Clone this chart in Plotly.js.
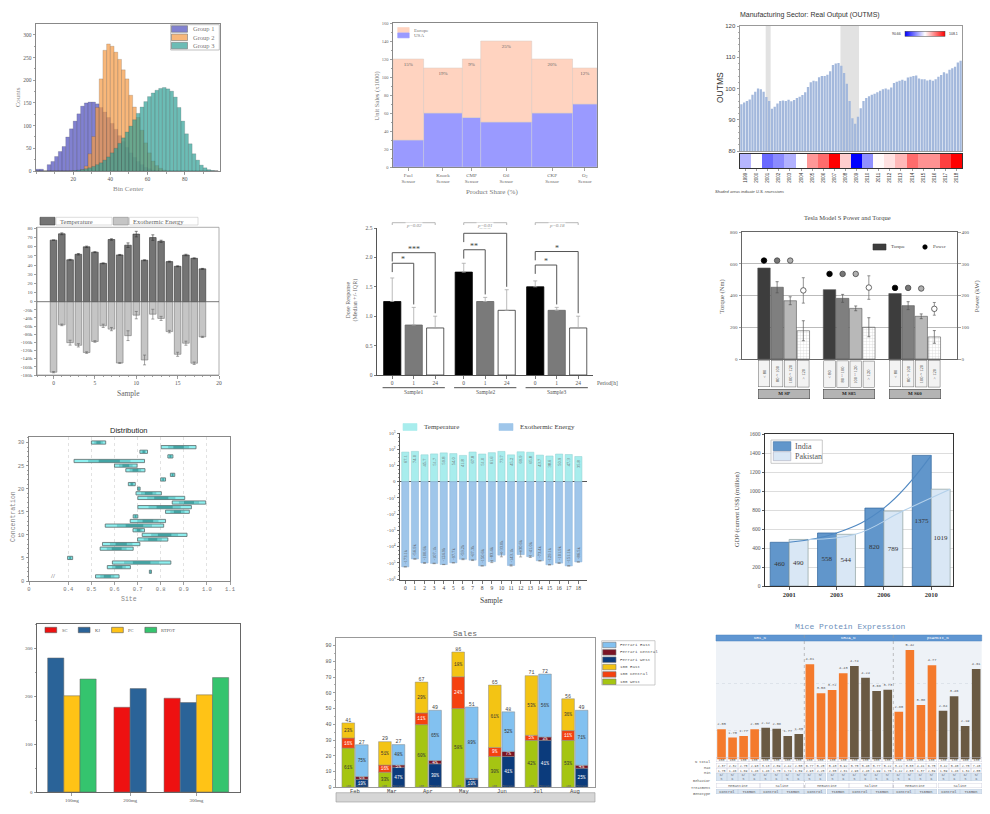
<!DOCTYPE html>
<html>
<head>
<meta charset="utf-8">
<script src="https://cdn.plot.ly/plotly-3.0.1.min.js"></script>
<style>html,body{margin:0;padding:0;background:#fff;}#chart{width:990px;height:814px;}</style>
</head>
<body>
<div id="chart"></div>
<script>
// ======================= DATA =======================
// Panel 1 - overlapping histograms
const histBins = [1,3,5,7,9,11,13,15,17,19,21,23,25,27,29,31,33,35,37,39,41,43,45,47,49,51,53,55,57,59,61,63,65,67,69,71,73,75,77,79,81,83,85,87,89,91,93,95,97];
const histGroup1 = [4,4,0,14,21,32,43,54,75,93,110,126,143,150,152,152,148,140,130,118,105,92,78,65,52,40,30,21,14,8,5,2,1,0,0,0,0,0,0,0,0,0,0,0,0,0,0,0,0];
const histGroup2 = [0,0,0,0,0,0,0,0,0,0,0,0,3,11,38,76,140,203,266,280,275,262,246,223,203,167,141,118,90,62,40,22,12,6,2,0,0,0,0,0,0,0,0,0,0,0,0,0,0];
const histGroup3 = [0,0,0,0,0,0,0,0,0,0,1,2,3,5,7,10,14,18,24,31,40,50,61,73,86,99,113,127,141,153,164,172,178,182,184,181,176,163,140,110,82,60,38,24,13,7,3,1,0];
const histNames = ['Group 1','Group 2','Group 3'];

// Panel 2 - Marimekko
const marCats = ['Fuel<br>Sensor','Knock<br>Sensor','CMP<br>Sensor','Oil<br>Sensor','CKP<br>Sensor','O<sub>2</sub><br>Sensor'];
const marShare = [15,19,9,25,20,12];
const marUSA = [30,60,55,50,60,70];
const marEurope = [90,50,65,90,60,40];

// Panel 3 - OUTMS quarterly 1999Q1..2018Q4
const outms = [95.0,95.5,96.0,96.5,98.0,99.0,100.0,99.8,99.0,97.3,
  96.0,93.5,94.2,95.2,96.0,96.2,96.0,96.4,95.9,96.3,
  97.0,97.4,97.9,98.8,100.5,102.0,102.5,102.3,103.6,104.0,
  104.0,104.4,105.5,107.5,108.0,108.2,107.3,105.0,101.5,96.0,
  90.5,88.7,91.0,93.7,96.0,97.0,97.5,98.0,98.3,98.8,
  99.3,99.8,100.0,99.7,100.3,101.8,102.2,102.5,102.8,102.5,
  103.5,103.8,104.0,104.2,103.2,103.0,103.0,102.6,102.8,102.5,
  103.0,103.8,104.3,105.2,104.8,106.0,106.5,107.0,108.3,108.9];
const recStart = [8.75,35.7];
const recEnd = [10.55,42.4];
const stripYears = ['1999','2000','2001','2002','2003','2004','2005','2006','2007','2008','2009','2010','2011','2012','2013','2014','2015','2016','2017','2018'];
const stripValues = [96.9,99.4,94.3,95.4,96.7,99.3,102.9,104.4,108.1,101.1,90.66,95.6,99.6,100.4,101.8,104.4,103.1,103.1,105.9,108.1];
const stripMin = 90.66, stripMax = 108.1;

// Panels 4 & 8 - temperature / exothermic energy
const samples = [0,1,2,3,4,5,6,7,8,9,10,11,12,13,14,15,16,17,18];
const temperature = [67.1,74.0,45.7,51.7,59.8,54.0,41.8,67.8,51.0,61.6,73.7,45.2,69.9,65.8,43.7,38.6,50.9,47.3,35.8];
const temperatureErr = [0,1,0.5,0.8,0.8,0.5,0.5,0.8,0.5,2.5,3,0.5,3,1.2,0.5,0.5,0.8,0.5,0.5];
const energyK = [-173.1,-56.9,-100.6,-107.1,-124.9,-97.7,-59.2,-67.3,-150.6,-83.4,-33.0,-143.1,-30.6,-41.0,-73.4,-129.1,-101.9,-151.1,-86.5];
const energyErrK = [1.5,2,6,4,2,2,4,4,1,12,9,12,12,5,3,5,5,3,1.5];

// Panel 5 - dose response
const doseGroups = ['Sample1','Sample2','Sample3'];
const dosePeriods = ['0','1','24'];
const dose0 = [1.25,1.75,1.50];
const dose1 = [0.85,1.25,1.10];
const dose24 = [0.80,1.10,0.80];
const doseErr0 = [0.40,0.15,0.10];
const doseErr1 = [0.30,0.07,0.05];
const doseErr24 = [0.20,0.35,0.20];
const sigGroup = [0,0,1,1,2,2];
const sigTo = [1,2,1,2,1,2];
const sigLevel = [1.90,2.08,2.13,2.41,1.87,2.10];
const sigText = ['*','***','**','***','*','*'];
const pValues = ['p=0.02','p=0.01','p=0.18'];

// Panel 6 - Tesla
const teslaModels = ['M SP','M S85','M S60'];
const speedBands = ['&lt; 80','80 ~ 100','100 ~ 120','&gt; 120'];
const torqueBand0 = [573,437,412];
const torqueBand1 = [452,382,336];
const torqueBand2 = [367,319,269];
const torqueBand3 = [178,200,139];
const torqueErr1 = [35,25,25];
const torqueErr2 = [25,15,15];
const torqueErr3 = [63,60,40];
const powerBand0 = [310,268,224];
const powerBand1 = [310,268,224];
const powerBand2 = [310,268,222];
const powerBand3 = [216,225,158];
const powerErr3 = [40,37,20];

// Panel 7 - floating bars
const distRows = [1,2,3,4,5,7,8,9,10,11,12,13,14,15,16,17,18,19,20,21,22,23,24,25,26,27,28,29,30];
const distStart = [0.518,0.751,0.569,0.591,0.397,0.538,0.548,0.700,0.720,0.680,0.560,0.668,0.681,0.821,0.701,0.850,0.701,0.693,0.700,0.660,0.800,0.842,0.649,0.600,0.425,0.831,0.710,0.802,0.500];
const distEnd   = [0.620,0.760,0.669,0.844,0.419,0.681,0.710,0.831,0.914,0.730,0.813,0.821,0.701,0.924,0.933,0.995,0.904,0.803,0.711,0.690,0.821,0.861,0.732,0.698,0.730,0.853,0.743,0.953,0.562];

// Panel 9 - GDP
const gdpYears = ['2001','2003','2006','2010'];
const gdpIndia = [460,558,820,1375];
const gdpPakistan = [490,544,789,1019];

// Panel 10 - grouped bars with gaps
const doseCats = ['100mg','200mg','300mg'];
const seriesSC = [null,177,196];
const seriesKJ = [280,216,187];
const seriesPC = [201,null,203];
const seriesRTPOT = [236,null,239];

// Panel 11 - Sales
const salesMonths = ['Feb','Mar','Apr','May','Jun','Jul','Aug'];
const s100West = [24.9,9.6,39.8,50.0,19.6,29.8,29.8];
const s100Central = [6.4,4.5,7.4,20.2,5.7,3.2,6.2];
const s100East = [9.6,14.9,19.6,15.7,39.6,37.9,20.2];
const sFerWest = [5.1,12.8,14.9,5.1,19.6,29.8,12.1];
const sFerCentral = [1.7,1.3,2.1,0.6,3.2,2.1,1.9];
const sFerEast = [20.2,13.0,31.9,45.3,25.1,40.0,34.9];

// Panel 12 - Mice protein expression
const mpProteins = ['NR1_N','NR2A_N','pCAMKII_N'];
const mpBehavior = ['C/S','S/C','C/S','S/C','C/S','S/C','C/S','S/C'];
const mpTreatment = ['Memantine','Saline'];
const mpGenotype = ['Control','Ts65Dn','Control','Ts65Dn'];
const mpN = [150,150,135,135,135,135,105,135];
const mpNR1 = [2.05,1.70,1.77,2.05,2.12,2.08,1.77,1.85];
const mpNR2A = [4.81,3.58,3.72,4.43,4.74,4.24,3.68,3.73];
const mpCAMKII = [2.80,5.42,3.08,4.77,2.84,3.46,2.19,4.61];
const mpMaxNR1 = [2.37,2.32,2.75,2.93,3.13,2.89,2.42,2.58];
const mpMinNR1 = [1.75,1.46,1.69,1.46,1.46,1.75,1.74,1.59];
const mpMaxNR2A = [6.77,5.25,5.43,5.92,5.75,5.40,5.77,5.22];
const mpMinNR2A = [2.93,2.25,2.65,2.61,2.96,2.40,1.99,1.76];
const mpMaxCAMKII = [3.22,8.03,4.41,6.75,3.42,5.40,2.75,7.48];
const mpMinCAMKII = [1.42,2.03,1.37,2.89,1.59,1.46,1.34,2.05];

// ======================= HELPERS =======================
const SERIF = '"Liberation Serif","DejaVu Serif",serif';
const SANS = '"Liberation Sans","DejaVu Sans",sans-serif';
const MONO = '"Liberation Mono","DejaVu Sans Mono",monospace';
const W = 990, H = 814;
const X = (a,b)=>[a/W,b/W];
const Y = (t,b)=>[1-b/H,1-t/H];
const PX = v=>v/W, PY = v=>1-v/H;
const fnt = (family,size,color)=>({family,size,color});
const traces = [], shapes = [], ann = [];
function axis(o){
  return Object.assign({automargin:false,showgrid:false,zeroline:false,showline:true,linecolor:'#888',linewidth:1,
    ticks:'outside',ticklen:2.5,tickwidth:0.8,tickcolor:'#888',tickfont:fnt(SERIF,5.5,'#555'),fixedrange:true},o);
}
function rectP(x0,y0,x1,y1,fill,line,lw,layer){
  shapes.push({type:'rect',xref:'paper',yref:'paper',x0:PX(x0),x1:PX(x1),y0:PY(y1),y1:PY(y0),
    fillcolor:fill||'rgba(0,0,0,0)',line:{color:line||'rgba(0,0,0,0)',width:lw==null?0.8:lw},layer:layer||'above'});
}
function lineP(x0,y0,x1,y1,color,w,dash){
  shapes.push({type:'line',xref:'paper',yref:'paper',x0:PX(x0),x1:PX(x1),y0:PY(y0),y1:PY(y1),line:{color:color,width:w||1,dash:dash||'solid'}});
}
function textP(x,y,text,font,o){
  ann.push(Object.assign({xref:'paper',yref:'paper',x:PX(x),y:PY(y),text:text,showarrow:false,font:font,xanchor:'center',yanchor:'middle'},o||{}));
}
function vtext(x,y,text,font){ textP(x,y,text,font,{textangle:-90}); }
function legendItems(items,x0,y0,dxs,dys,sw,sh,gap,font){
  items.forEach((it,i)=>{
    const x=x0+i*dxs, y=y0+i*dys;
    if(it.dot){
      shapes.push({type:'circle',xref:'paper',yref:'paper',x0:PX(x+sw/2-2.2),x1:PX(x+sw/2+2.2),y0:PY(y+2.2),y1:PY(y-2.2),fillcolor:it.fill,line:{color:it.line||it.fill,width:0.8}});
    } else rectP(x,y-sh/2,x+sw,y+sh/2,it.fill,it.line||'#666',0.6);
    textP(x+sw+gap,y,it.name,font,{xanchor:'left'});
  });
}
const layout = {width:W,height:H,margin:{l:0,r:0,t:0,b:0},paper_bgcolor:'#fff',plot_bgcolor:'rgba(0,0,0,0)',
  barmode:'overlay',showlegend:false,hovermode:false,font:fnt(SERIF,6,'#555')};

// ======================= PANEL 1 =======================
const histColors = ['rgba(80,80,190,0.72)','rgba(245,155,70,0.72)','rgba(45,160,150,0.70)'];
[histGroup1,histGroup2,histGroup3].forEach((g,i)=>traces.push({type:'bar',x:histBins,y:g,width:2,name:histNames[i],
  marker:{color:histColors[i],line:{color:'rgba(60,60,60,0.45)',width:0.4}},xaxis:'x',yaxis:'y'}));
layout.xaxis = axis({domain:X(36,220),range:[0,99],anchor:'y',tickvals:[20,40,60,80],mirror:true,
  minor:{dtick:10,ticks:'outside',ticklen:1.5,tickcolor:'#888'}});
layout.yaxis = axis({domain:Y(24,171),range:[0,324],anchor:'x',dtick:50,mirror:true,
  minor:{dtick:25,ticks:'outside',ticklen:1.5,tickcolor:'#888'}});
textP(128,189,'Bin Center',fnt(SERIF,7,'#888'));
vtext(18.3,97,'Counts',fnt(SERIF,7,'#888'));
rectP(170.7,24.7,219.3,50,'rgba(255,255,255,0.9)','#999',0.6);
legendItems(histNames.map((n,i)=>({name:n,fill:histColors[i],line:'#777'})),171.5,29,0,8.3,16,6.5,3,fnt(SERIF,6.5,'#777'));

// ======================= PANEL 2 =======================
const marStart = []; marShare.forEach((s,i)=>marStart.push(i?marStart[i-1]+marShare[i-1]:0));
const marCenter = marStart.map((s,i)=>s+marShare[i]/2);
traces.push({type:'bar',x:marCenter,y:marUSA,width:marShare,xaxis:'x2',yaxis:'y2',marker:{color:'#9a9aff',line:{color:'#c8c8d8',width:0.5}}});
traces.push({type:'bar',x:marCenter,y:marEurope,base:marUSA,width:marShare,xaxis:'x2',yaxis:'y2',
  marker:{color:'#ffd3c0',line:{color:'#d8c8c0',width:0.5}},text:marShare.map(s=>s+'%'),textposition:'inside',insidetextanchor:'end',
  textangle:0,textfont:fnt(SERIF,5,'#666'),constraintext:'none'});
layout.xaxis2 = axis({domain:X(393,597),range:[0,100],anchor:'y2',tickvals:marCenter,ticktext:marCats,tickfont:fnt(SERIF,5,'#666'),mirror:true});
layout.yaxis2 = axis({domain:Y(23,167),range:[0,160],anchor:'x2',dtick:20,mirror:true,tickfont:fnt(SERIF,4.5,'#666'),
  minor:{dtick:10,ticks:'outside',ticklen:1.5,tickcolor:'#888'}});
textP(491.7,191.7,'Product Share (%)',fnt(SERIF,7,'#777'));
vtext(376.5,96,'Unit Sales (x1000)',fnt(SERIF,6.5,'#777'));
legendItems([{name:'Europe',fill:'#ffd3c0',line:'#ffd3c0'},{name:'USA',fill:'#9a9aff',line:'#9a9aff'}],397.7,30,0,5.4,11.5,5,2.5,fnt(SERIF,5,'#777'));

// ======================= PANEL 3 =======================
const qIdx = outms.map((v,i)=>i);
recStart.forEach((s,i)=>shapes.push({type:'rect',xref:'x3',yref:'y3',x0:s,x1:recEnd[i],y0:80,y1:120,fillcolor:'#e2e2e2',line:{width:0},layer:'below'}));
traces.push({type:'bar',x:qIdx,y:outms,width:0.82,xaxis:'x3',yaxis:'y3',marker:{color:'#a3b8dc',line:{width:0}}});
layout.xaxis3 = axis({domain:X(740,962),range:[-0.5,79.5],anchor:'y3',showticklabels:false,ticks:'',mirror:true,linecolor:'#999'});
layout.yaxis3 = axis({domain:Y(26,151),range:[80,120],anchor:'x3',dtick:10,mirror:true,linecolor:'#999',tickfont:fnt(SANS,6,'#444'),
  minor:{dtick:2,ticks:'outside',ticklen:1.5,tickcolor:'#999'}});
vtext(720,88,'OUTMS',fnt(SANS,8.5,'#333'));
const yrIdx = stripYears.map((y,i)=>i);
traces.push({type:'heatmap',z:[stripValues],x:yrIdx,y:[0],xaxis:'x4',yaxis:'y4',zmin:stripMin,zmax:stripMax,
  colorscale:[[0,'#0000ff'],[0.5,'#ffffff'],[1,'#ff0000']],showscale:true,
  colorbar:{orientation:'h',x:PX(925),xanchor:'center',y:PY(34),yanchor:'middle',len:40,lenmode:'pixels',thickness:5,
    showticklabels:false,ticks:'',outlinewidth:0.5,outlinecolor:'#444',xpad:0,ypad:0}});
layout.xaxis4 = axis({domain:X(740,962),range:[-0.5,19.5],anchor:'y4',tickvals:yrIdx,ticktext:stripYears,tickangle:-90,
  tickfont:fnt(SANS,4.5,'#333'),mirror:true,linecolor:'#333',ticklen:2});
layout.yaxis4 = axis({domain:Y(154,168),range:[-0.5,0.5],anchor:'x4',showticklabels:false,ticks:'',mirror:true,linecolor:'#333'});
textP(810,15,'Manufacturing Sector: Real Output (OUTMS)',fnt(SANS,7,'#333'));
textP(903,34,String(stripMin),fnt(SANS,3.5,'#333'),{xanchor:'right'});
textP(947,34,String(stripMax),fnt(SANS,3.5,'#333'),{xanchor:'left'});
textP(713,192,'<i>Shaded areas indicate U.S. recessions</i>',fnt(SANS,4,'#444'),{xanchor:'left'});

// ======================= PANEL 4 =======================
traces.push({type:'bar',x:samples,y:temperature,width:0.8,xaxis:'x5',yaxis:'y5',marker:{color:'#747474',line:{color:'#333',width:0.6}},
  error_y:{type:'data',array:temperatureErr,color:'#333',thickness:0.6,width:1.5}});
traces.push({type:'bar',x:samples,y:energyK,width:0.8,xaxis:'x5',yaxis:'y6',marker:{color:'#c5c5c5',line:{color:'#777',width:0.6}},
  error_y:{type:'data',array:energyErrK,color:'#666',thickness:0.6,width:1.5}});
layout.xaxis5 = axis({domain:X(37,219),range:[-2,20],anchor:'y6',tickvals:[0,5,10,15,20],
  minor:{dtick:1,ticks:'outside',ticklen:1.2,tickcolor:'#888'}});
layout.yaxis5 = axis({domain:Y(227.3,301.7),range:[0,81.1],anchor:'x5',tickvals:[0,10,20,30,40,50,60,70,80],tickfont:fnt(SERIF,5,'#555')});
layout.yaxis6 = axis({domain:Y(301.7,375),range:[-180,0],anchor:'x5',tickvals:[-180,-160,-140,-120,-100,-80,-60,-40,-20],
  ticktext:['-180k','-160k','-140k','-120k','-100k','-80k','-60k','-40k','-20k'],tickfont:fnt(SERIF,5,'#555')});
textP(128.3,393.3,'Sample',fnt(SERIF,7.5,'#666'));
rectP(37,227.3,219,375,null,'#999',0.8);
lineP(37,301.7,219,301.7,'#555',0.8);
rectP(40,217.3,55,225,'#747474','#444',0.6); rectP(56,217.3,112,225,null,'#bbb',0.5);
textP(58,221.2,'Temperature',fnt(SERIF,6.5,'#666'),{xanchor:'left'});
rectP(113.3,217.3,128.3,225,'#c5c5c5','#888',0.6); rectP(129.5,217.3,198,225,null,'#bbb',0.5);
textP(131,221.2,'Exothermic Energy',fnt(SERIF,6.5,'#666'),{xanchor:'left'});

// ======================= PANEL 5 =======================
const DOSE_STEP = 3.33;
const doseSeries = [dose0,dose1,dose24], doseErrs = [doseErr0,doseErr1,doseErr24];
const doseColors = ['#000000','#7a7a7a','#ffffff'], doseLines = ['#000','#666','#333'];
const doseX = (g,j)=>g*DOSE_STEP+j;
doseSeries.forEach((vals,j)=>traces.push({type:'bar',x:doseGroups.map((_,g)=>doseX(g,j)),y:vals,width:0.8,xaxis:'x6',yaxis:'y7',
  marker:{color:doseColors[j],line:{color:doseLines[j],width:0.8}},
  error_y:{type:'data',array:doseErrs[j],arrayminus:vals.map(()=>0),symmetric:false,color:'#aaa',thickness:0.8,width:2}}));
const doseTickX = [], doseTickT = [];
doseGroups.forEach((g,gi)=>dosePeriods.forEach((p,j)=>{doseTickX.push(doseX(gi,j));doseTickT.push(p);}));
layout.xaxis6 = axis({domain:X(377,593),range:[-0.71,9.35],anchor:'y7',tickvals:doseTickX,ticktext:doseTickT,linecolor:'#555',tickcolor:'#555',tickfont:fnt(SERIF,5.5,'#555')});
layout.yaxis7 = axis({domain:Y(228,375),range:[0,2.5],anchor:'x6',tickvals:[0,0.5,1,1.5,2,2.5],ticktext:['0','0.5','1.0','1.5','2.0','2.5'],
  linecolor:'#555',tickcolor:'#555'});
vtext(351.5,300,'Dose Response<br>(Median +/- IQR)',fnt(SERIF,6,'#666'));
sigGroup.forEach((g,k)=>{
  const xa=doseX(g,0), xb=doseX(g,sigTo[k]), y=sigLevel[k];
  const topB=doseSeries[sigTo[k]][g]+doseErrs[sigTo[k]][g]+0.05;
  shapes.push({type:'path',xref:'x6',yref:'y7',path:'M'+xa+','+(y-0.15)+' L'+xa+','+y+' L'+xb+','+y+' L'+xb+','+topB,line:{color:'#555',width:1}});
  ann.push({xref:'x6',yref:'y7',x:(xa+xb)/2,y:y,yanchor:'bottom',yshift:-3,text:sigText[k],showarrow:false,font:fnt(SERIF,8,'#444')});
});
doseGroups.forEach((g,gi)=>{
  const xa=doseX(gi,0), xb=doseX(gi,2);
  shapes.push({type:'path',xref:'x6',yref:'paper',path:'M'+xa+','+PY(225)+' L'+xa+','+PY(222.7)+' L'+xb+','+PY(222.7)+' L'+xb+','+PY(225),line:{color:'#999',width:0.7}});
  ann.push({xref:'x6',yref:'paper',x:(xa+xb)/2,y:PY(221.5),text:'<i>'+pValues[gi]+'</i>',showarrow:false,font:fnt(SERIF,5,'#888'),bgcolor:'#fff',borderpad:0});
  shapes.push({type:'line',xref:'x6',yref:'paper',x0:xa-0.45,x1:xb+0.45,y0:PY(387.7),y1:PY(387.7),line:{color:'#222',width:0.8}});
  ann.push({xref:'x6',yref:'paper',x:(xa+xb)/2,y:PY(391.5),text:g,showarrow:false,font:fnt(SERIF,5.5,'#555')});
});
textP(607,382.5,'Period[h]',fnt(SERIF,5.5,'#555'));

// ======================= PANEL 6 =======================
const TESLA_STEP = 5;
const torqueBands = [torqueBand0,torqueBand1,torqueBand2,torqueBand3];
const torqueErrs = [null,torqueErr1,torqueErr2,torqueErr3];
const powerBands = [powerBand0,powerBand1,powerBand2,powerBand3];
const bandColors = ['#3d3d3d','#7f7f7f','#b8b8b8','#efefef'];
const dotColors = ['#000000','#777777','#b0b0b0','#ffffff'];
const teslaX = (g,j)=>g*TESLA_STEP+j;
torqueBands.forEach((vals,j)=>{
  const t={type:'bar',x:teslaModels.map((_,g)=>teslaX(g,j)),y:vals,width:0.95,xaxis:'x7',yaxis:'y8',
    marker:{color:bandColors[j],line:{color:'#555',width:0.6}}};
  if(j===3) t.marker.pattern={shape:'+',fgcolor:'#cfcfcf',size:3,solidity:0.2};
  if(torqueErrs[j]) t.error_y={type:'data',array:torqueErrs[j],color:'#555',thickness:0.7,width:1.5};
  traces.push(t);
});
powerBands.forEach((vals,j)=>{
  const t={type:'scatter',mode:'markers',x:teslaModels.map((_,g)=>teslaX(g,j)),y:vals,xaxis:'x7',yaxis:'y9',
    marker:{size:5.5,color:dotColors[j],line:{color:j===0?'#000':'#444',width:0.8}}};
  if(j===3) t.error_y={type:'data',array:powerErr3,color:'#666',thickness:0.7,width:1.5};
  traces.push(t);
});
layout.xaxis7 = axis({domain:X(742,957),range:[-1.68,14.73],anchor:'y8',showticklabels:false,ticks:'',mirror:true,linecolor:'#666'});
layout.yaxis8 = axis({domain:Y(232,359),range:[0,800],anchor:'x7',dtick:200,showgrid:true,gridcolor:'#aaa',gridwidth:0.8,linecolor:'#666',
  tickfont:fnt(SERIF,5,'#555')});
layout.yaxis9 = axis({domain:Y(232,359),range:[0,400],anchor:'x7',overlaying:'y8',side:'right',dtick:100,linecolor:'#666',
  tickfont:fnt(SERIF,5,'#555')});
vtext(721.7,296.7,'Torque (Nm)',fnt(SERIF,6.5,'#555'));
vtext(976.5,296.7,'Power (kW)',fnt(SERIF,6.5,'#555'));
teslaModels.forEach((m,g)=>{
  speedBands.forEach((b,j)=>ann.push({xref:'x7',yref:'paper',x:teslaX(g,j),y:PY(374),text:b,textangle:-90,showarrow:false,
    font:fnt(SERIF,4.5,'#333'),width:26,height:11,bgcolor:'#f3f3f3',bordercolor:'#666',borderwidth:0.5,borderpad:0}));
  ann.push({xref:'x7',yref:'paper',x:teslaX(g,1.5),y:PY(394.3),text:'<b>'+m+'</b>',showarrow:false,font:fnt(SERIF,5,'#222'),
    width:51,height:8.5,bgcolor:'#b4b4b4',bordercolor:'#444',borderwidth:0.6,borderpad:0});
});
textP(847,217,'Tesla Model S Power and Torque',fnt(SERIF,6.5,'#444'));
legendItems([{name:'Torque',fill:'#3d3d3d',line:'#333'}],873,247,0,0,13,6,3,fnt(SERIF,5,'#444'));
legendItems([{name:'Power',fill:'#000',line:'#000',dot:true}],922,247,0,0,6,6,3,fnt(SERIF,5,'#444'));

// ======================= PANEL 7 =======================
const distLen = distEnd.map((e,i)=>e-distStart[i]);
traces.push({type:'bar',orientation:'h',y:distRows,x:distLen,base:distStart,width:0.7,xaxis:'x8',yaxis:'y10',
  marker:{color:'#8ef0f0',line:{color:'#5a6a6a',width:0.8}}});
[[0.2,'rgba(40,150,150,0.35)'],[0.35,'rgba(20,110,110,0.45)']].forEach(([f,c])=>traces.push({type:'bar',orientation:'h',y:distRows,
  x:distLen.map(l=>l*(1-2*f)),base:distStart.map((s,i)=>s+distLen[i]*f),width:0.55,xaxis:'x8',yaxis:'y10',marker:{color:c,line:{width:0}}}));
layout.xaxis8 = axis({domain:X(29,230),range:[0.23,1.1],anchor:'y10',mirror:true,tickvals:[0.23,0.4,0.5,0.6,0.7,0.8,0.9,1.0,1.1],
  ticktext:['0','0.4','0.5','0.6','0.7','0.8','0.9','1.0','1.1'],showgrid:true,gridcolor:'#e2e2e2',griddash:'dot',
  tickfont:fnt(MONO,5.5,'#777')});
layout.yaxis10 = axis({domain:Y(437,581),range:[0,31.2],anchor:'x8',mirror:true,tickvals:[0,5,10,15,20,25,30],
  minor:{dtick:1,ticks:'outside',ticklen:1.2,tickcolor:'#888'},tickfont:fnt(MONO,5.5,'#777')});
textP(129.3,599,'Site',fnt(MONO,6.5,'#888'));
vtext(13.3,516.7,'Concentration',fnt(MONO,6.5,'#888'));
ann.push({xref:'x8',yref:'paper',x:0.335,y:PY(580.5),text:'//',showarrow:false,font:fnt(SERIF,7,'#555'),bgcolor:'#fff',borderpad:0});
textP(129,430,'Distribution',fnt(SANS,7.5,'#222'));

// ======================= PANEL 8 =======================
const symlog = v=>Math.abs(v)<=10 ? v/10 : Math.sign(v)*Math.log10(Math.abs(v));
const energyAbs = energyK.map(v=>v*1000), energyErrAbs = energyErrK.map(v=>v*1000);
traces.push({type:'bar',x:samples,y:temperature.map(symlog),width:0.75,xaxis:'x9',yaxis:'y11',marker:{color:'#a8eded',line:{color:'#90d0d0',width:0.5}},
  text:temperature.map(v=>v.toFixed(1)),textposition:'inside',insidetextanchor:'end',textangle:-90,textfont:fnt(SERIF,4.5,'#666'),constraintext:'none'});
traces.push({type:'bar',x:samples,y:energyAbs.map(symlog),width:0.75,xaxis:'x9',yaxis:'y11',marker:{color:'#9fc6ea',line:{color:'#88b0d8',width:0.5}},
  text:energyK.map(v=>v.toFixed(1)+'k'),textposition:'inside',insidetextanchor:'end',textangle:-90,textfont:fnt(SERIF,4.5,'#555'),constraintext:'none',
  error_y:{type:'data',symmetric:false,array:energyAbs.map((v,i)=>symlog(v+energyErrAbs[i])-symlog(v)),
    arrayminus:energyAbs.map((v,i)=>symlog(v)-symlog(v-energyErrAbs[i])),color:'#777',thickness:0.6,width:1.5}});
layout.xaxis9 = axis({domain:X(400,587),range:[-0.55,18.9],anchor:'y11',tickvals:samples,linecolor:'#555',tickcolor:'#555',
  tickfont:fnt(SERIF,5.5,'#444')});
layout.yaxis11 = axis({domain:Y(433,580),range:[-6.05,3.0],anchor:'x9',tickvals:[-6,-5,-4,-3,-2,-1,0,1,2,3],linecolor:'#555',tickcolor:'#555',
  ticktext:['-10<sup>6</sup>','-10<sup>5</sup>','-10<sup>4</sup>','-10<sup>3</sup>','-10<sup>2</sup>','-10<sup>1</sup>','0','10<sup>1</sup>','10<sup>2</sup>','10<sup>3</sup>'],
  tickfont:fnt(SERIF,5,'#555'),zeroline:true,zerolinecolor:'#555',zerolinewidth:1,minor:{dtick:0.25,ticks:'outside',ticklen:1.2,tickcolor:'#777'}});
textP(491,600,'Sample',fnt(SERIF,7.5,'#444'));
legendItems([{name:'Temperature',fill:'#a8eded',line:'#a8eded'},{name:'Exothermic Energy',fill:'#9fc6ea',line:'#9fc6ea'}],403,427,96,0,14,7,5,fnt(SERIF,7,'#444'));

// ======================= PANEL 9 =======================
const gIdx = gdpYears.map((y,i)=>i);
traces.push({type:'bar',x:gIdx.map(i=>i-0.2),y:gdpIndia,width:0.4,xaxis:'x10',yaxis:'y12',marker:{color:'#6196cb',line:{color:'#3b6ea3',width:0.8}},
  text:gdpIndia.map(String),textposition:'inside',insidetextanchor:'middle',textangle:0,textfont:fnt(SERIF,7,'#333'),constraintext:'none'});
traces.push({type:'bar',x:gIdx.map(i=>i+0.2),y:gdpPakistan,width:0.4,xaxis:'x10',yaxis:'y12',marker:{color:'#d9e7f5',line:{color:'#9aa',width:0.8}},
  text:gdpPakistan.map(String),textposition:'inside',insidetextanchor:'middle',textangle:0,textfont:fnt(SERIF,7,'#333'),constraintext:'none'});
traces.push({type:'scatter',mode:'lines',x:gIdx.map(i=>i),y:gdpIndia,xaxis:'x10',yaxis:'y12',line:{shape:'spline',smoothing:1.2,color:'#4f88c2',width:1.1}});
traces.push({type:'scatter',mode:'lines',x:gIdx.map(i=>i+0.4),y:gdpPakistan,xaxis:'x10',yaxis:'y12',line:{shape:'spline',smoothing:1.2,color:'#b3d0ea',width:1.1}});
layout.xaxis10 = axis({domain:X(765,953),range:[-0.51,3.46],anchor:'y12',tickvals:gIdx,ticktext:gdpYears.map(y=>'<b>'+y+'</b>'),mirror:true,linecolor:'#333',
  tickcolor:'#333',tickfont:fnt(SERIF,6.5,'#333')});
layout.yaxis12 = axis({domain:Y(434,586),range:[0,1600],anchor:'x10',dtick:200,mirror:true,linecolor:'#333',tickcolor:'#333',showgrid:true,gridcolor:'#ddd',
  tickfont:fnt(SERIF,5.5,'#555')});
vtext(737,510,'GDP (current US$) (million)',fnt(SERIF,6.5,'#444'));
rectP(771,440,822.3,463.3,'rgba(255,255,255,0.9)','#bbb',0.8);
legendItems([{name:'India',fill:'#6196cb',line:'#3b6ea3'},{name:'Pakistan',fill:'#d9e7f5',line:'#aab'}],773.3,446.2,0,10,17.5,9,2.5,fnt(SERIF,8,'#555'));

// ======================= PANEL 10 =======================
const p10Series = [seriesSC,seriesKJ,seriesPC,seriesRTPOT];
const p10Names = ['SC','KJ','PC','RTPOT'];
const p10Colors = ['#ee1111','#2a6398','#ffc316','#35c46e'];
const p10X = p10Series.map(()=>[]), p10Centers = [];
let p10pos = 0;
doseCats.forEach((c,gi)=>{
  const xs=[];
  p10Series.forEach((s,si)=>{ if(s[gi]!=null){p10X[si][gi]=p10pos; xs.push(p10pos); p10pos+=1;} else p10X[si][gi]=null; });
  p10Centers.push((xs[0]+xs[xs.length-1])/2);
  p10pos+=1.1;
});
p10Series.forEach((s,si)=>traces.push({type:'bar',x:p10X[si],y:s,width:1,xaxis:'x11',yaxis:'y13',marker:{color:p10Colors[si],line:{color:'#666',width:0.5}}}));
layout.xaxis11 = axis({domain:X(37,240),range:[-1.16,11.4],anchor:'y13',tickvals:p10Centers,ticktext:doseCats,mirror:true,linecolor:'#666',tickfont:fnt(SERIF,5,'#555')});
layout.yaxis13 = axis({domain:Y(624,792),range:[0,351],anchor:'x11',tickvals:[0,100,200,300],mirror:true,linecolor:'#666',tickfont:fnt(SERIF,5,'#555'),
  minor:{dtick:50,ticks:'outside',ticklen:1.5,tickcolor:'#888'}});
legendItems(p10Names.map((n,i)=>({name:n,fill:p10Colors[i],line:'#555'})),45,630,33.3,0,11.7,5.4,2.8,fnt(SERIF,4.5,'#555'));

// ======================= PANEL 11 =======================
const salesIdx = salesMonths.map((m,i)=>i);
const OFF11 = 0.185, W11 = 0.345;
const tot100 = salesIdx.map(i=>s100West[i]+s100Central[i]+s100East[i]);
const totFer = salesIdx.map(i=>sFerWest[i]+sFerCentral[i]+sFerEast[i]);
const seg11 = [
  {name:'100 West',vals:s100West,color:'#a5c512',tot:tot100,off:-OFF11,tc:'#333'},
  {name:'100 Central',vals:s100Central,color:'#f5410f',tot:tot100,off:-OFF11,tc:'#fff'},
  {name:'100 East',vals:s100East,color:'#f3c414',tot:tot100,off:-OFF11,tc:'#333'},
  {name:'Ferrari West',vals:sFerWest,color:'#0b3b7c',tot:totFer,off:OFF11,tc:'#fff'},
  {name:'Ferrari Central',vals:sFerCentral,color:'#7b1425',tot:totFer,off:OFF11,tc:'#fff'},
  {name:'Ferrari East',vals:sFerEast,color:'#82c1f0',tot:totFer,off:OFF11,tc:'#333'}];
let base100 = salesIdx.map(()=>0), baseFer = salesIdx.map(()=>0);
seg11.forEach((s,k)=>{
  const isF = s.off>0, b = isF?baseFer:base100;
  traces.push({type:'bar',x:salesIdx.map(i=>i+s.off),y:s.vals,base:b.slice(),width:W11,xaxis:'x12',yaxis:'y14',
    marker:{color:s.color,line:{color:'#8a8a8a',width:0.5}},text:s.vals.map((v,i)=>Math.round(v/s.tot[i]*100)+'%'),
    textposition:'inside',insidetextanchor:'middle',textangle:0,textfont:fnt(MONO,4.5,s.tc),constraintext:'none'});
  s.vals.forEach((v,i)=>b[i]+=v);
});
traces.push({type:'scatter',mode:'text',x:salesIdx.map(i=>i-OFF11).concat(salesIdx.map(i=>i+OFF11)),y:tot100.concat(totFer),
  text:tot100.concat(totFer).map(v=>String(Math.round(v))),textposition:'top center',textfont:fnt(MONO,5,'#444'),xaxis:'x12',yaxis:'y14',cliponaxis:false});
layout.xaxis12 = axis({domain:X(336,595),range:[-0.52,6.55],anchor:'y14',showticklabels:false,ticks:'',mirror:true,linecolor:'#999'});
layout.yaxis14 = axis({domain:Y(638,787.3),range:[0,94.8],anchor:'x12',dtick:10,mirror:true,linecolor:'#999',tickfont:fnt(MONO,5,'#555'),
  minor:{dtick:5,ticks:'outside',ticklen:1.5,tickcolor:'#999'}});
salesIdx.forEach(i=>{
  ann.push({xref:'x12',yref:'paper',x:i-OFF11,y:PY(789.9),text:'100',showarrow:false,font:fnt(MONO,2.8,'#666')});
  ann.push({xref:'x12',yref:'paper',x:i+OFF11,y:PY(789.9),text:'Ferrari',showarrow:false,font:fnt(MONO,2.8,'#666')});
});
rectP(336,792.7,595,802,'#d6d6d6','#999',0.6);
salesMonths.forEach((m,i)=>ann.push({xref:'x12',yref:'paper',x:i,y:PY(797.4),text:m,showarrow:false,font:fnt(MONO,5.5,'#444')}));
textP(465,633,'Sales',fnt(MONO,8,'#666'));
rectP(601.7,640.7,655,685,'#fff','#aaa',0.6);
legendItems(seg11.slice().reverse().map(s=>({name:s.name,fill:s.color,line:'#777'})),602.7,645,0,7.35,13.3,5.5,1.8,fnt(MONO,4.2,'#555'));

// ======================= PANEL 12 =======================
const mpSeries = [mpNR1,mpNR2A,mpCAMKII];
const mpMax = [mpMaxNR1,mpMaxNR2A,mpMaxCAMKII];
const mpMin = [mpMinNR1,mpMinNR2A,mpMinCAMKII];
const mpFacetX = [[716,804.3],[804.3,893.3],[893.3,981.7]];
const mpColors = mpBehavior.map((b,i)=>i<4?'#f47a2c':'#6a5a43');
rectP(716,641,981.7,759.3,'#eef2f7',null,0,'below');
rectP(716,635,981.7,641,'#5f96d2','#4a80bd',0.5);
mpSeries.forEach((vals,f)=>{
  const xa='x'+(13+f), xk='xaxis'+(13+f);
  traces.push({type:'bar',x:mpBehavior.map((b,i)=>i),y:vals,width:0.78,xaxis:xa,yaxis:'y15',marker:{color:mpColors,line:{width:0}},
    text:vals.map(v=>v.toFixed(2)),textposition:'outside',textangle:0,textfont:fnt(MONO,3.6,'#555'),cliponaxis:false,constraintext:'none'});
  layout[xk] = axis({domain:X(mpFacetX[f][0],mpFacetX[f][1]),range:[-0.5,7.5],anchor:'y15',showline:false,showticklabels:false,ticks:''});
  textP((mpFacetX[f][0]+mpFacetX[f][1])/2,638,mpProteins[f],fnt(MONO,4,'#fff'));
  if(f>0) lineP(mpFacetX[f][0],635,mpFacetX[f][0],797,'#999',0.6,'dot');
  mpBehavior.forEach((b,i)=>{
    const cell={xref:xa,yref:'paper',x:i,showarrow:false,width:10.4,borderwidth:0.4,borderpad:0};
    ann.push(Object.assign({},cell,{y:PY(762),text:String(mpN[i]),font:fnt(MONO,3.3,'#555'),height:4.6,bordercolor:'#ccd'}));
    ann.push(Object.assign({},cell,{y:PY(767.6),text:mpMax[f][i].toFixed(2),font:fnt(MONO,3.3,'#555'),height:4.6,bordercolor:'#ccd'}));
    ann.push(Object.assign({},cell,{y:PY(773.2),text:mpMin[f][i].toFixed(2),font:fnt(MONO,3.3,'#555'),height:4.6,bordercolor:'#ccd'}));
    ann.push(Object.assign({},cell,{y:PY(780.8),text:b.replace('/','/<br>'),font:fnt(MONO,3.2,'#556'),height:7.6,bgcolor:'#d8e4f1',bordercolor:'#b8c8dc'}));
  });
  mpTreatment.forEach((t,k)=>ann.push({xref:xa,yref:'paper',x:k*4+1.5,y:PY(788.3),text:t,showarrow:false,width:43,height:4.6,
    font:fnt(MONO,3.6,'#555'),bordercolor:'#ccd',borderwidth:0.4,borderpad:0}));
  mpGenotype.forEach((g,k)=>ann.push({xref:xa,yref:'paper',x:k*2+0.5,y:PY(793.9),text:g,showarrow:false,width:21,height:4.6,
    font:fnt(MONO,3.6,'#555'),bgcolor:'#d8e4f1',bordercolor:'#b8c8dc',borderwidth:0.4,borderpad:0}));
});
layout.yaxis15 = axis({domain:Y(641,759.3),range:[0.78,5.8],anchor:'x13',showline:false,showticklabels:false,ticks:'',showgrid:true,gridcolor:'#dde3ea',griddash:'dot'});
const mpRowY = [762,767.6,773.2,780.8,788.3,793.9];
['N total','Max','Min','Behavior','Treatment','Genotype'].forEach((r,k)=>textP(712,mpRowY[k],r,fnt(MONO,3.6,'#555'),{xanchor:'right'}));
textP(850,626,'Mice Protein Expression',fnt(MONO,8,'#6d8fbb'));

layout.shapes = shapes;
layout.annotations = ann;
Plotly.newPlot('chart',traces,layout,{staticPlot:true,displayModeBar:false});
</script>
</body>
</html>
